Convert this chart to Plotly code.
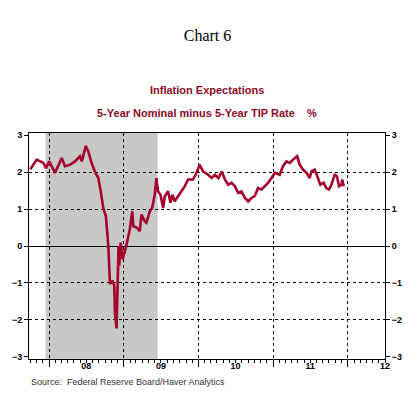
import plotly.graph_objects as go

dates = [
    "2007-10-01", "2007-11-02", "2007-12-04", "2007-12-17", "2008-01-02", "2008-01-20",
    "2008-01-30", "2008-02-14", "2008-03-03", "2008-03-19", "2008-04-12", "2008-05-07",
    "2008-05-31", "2008-06-09", "2008-06-29", "2008-07-11", "2008-07-27", "2008-08-12",
    "2008-08-29", "2008-09-11", "2008-09-22", "2008-10-05", "2008-10-17", "2008-10-25",
    "2008-11-07", "2008-11-15", "2008-11-18", "2008-11-26", "2008-12-01", "2008-12-06",
    "2008-12-09", "2008-12-16", "2008-12-26", "2009-01-11", "2009-01-30", "2009-02-11",
    "2009-02-16", "2009-03-07", "2009-03-20", "2009-03-28", "2009-04-13", "2009-04-21",
    "2009-05-08", "2009-05-19", "2009-06-01", "2009-06-09", "2009-06-17", "2009-06-29",
    "2009-07-12", "2009-07-20", "2009-08-05", "2009-08-17", "2009-08-26", "2009-09-07",
    "2009-09-23", "2009-10-09", "2009-10-26", "2009-11-11", "2009-12-05", "2009-12-18",
    "2010-01-04", "2010-01-07", "2010-01-23", "2010-02-17", "2010-03-06", "2010-03-22",
    "2010-04-08", "2010-04-25", "2010-05-10", "2010-05-26", "2010-06-12", "2010-06-28",
    "2010-07-14", "2010-07-30", "2010-08-16", "2010-09-01", "2010-09-17", "2010-10-03",
    "2010-10-19", "2010-11-05", "2010-11-21", "2010-12-07", "2010-12-24", "2011-01-09",
    "2011-02-02", "2011-02-18", "2011-03-07", "2011-03-23", "2011-04-08", "2011-04-28",
    "2011-05-11", "2011-05-27", "2011-06-13", "2011-06-29", "2011-07-07", "2011-07-23",
    "2011-08-08", "2011-08-20", "2011-09-05", "2011-09-18", "2011-10-01", "2011-10-13",
    "2011-10-29", "2011-11-09", "2011-11-19", "2011-12-01", "2011-12-05", "2011-12-12",
]
spread = [
    2.08, 2.34, 2.25, 2.11, 2.29, 2.07,
    1.98, 2.16, 2.38, 2.16, 2.20, 2.29,
    2.43, 2.29, 2.71, 2.56, 2.25, 2.02,
    1.84, 1.44, 1.03, 0.81, 0.00, -1.03,
    -0.94, -1.08, -1.80, -2.23, -0.72, 0.00,
    -0.54, 0.09, -0.36, -0.04, 0.45, 0.94,
    0.54, 0.49, 0.40, 0.85, 0.67, 0.63,
    0.94, 1.03, 1.39, 1.84, 1.48, 1.39,
    1.03, 1.35, 1.48, 1.17, 1.39, 1.21,
    1.35, 1.48, 1.62, 1.80, 1.80, 1.93,
    2.20, 2.20, 2.02, 1.93, 1.84, 1.93,
    1.84, 2.02, 1.80, 1.66, 1.71, 1.62,
    1.44, 1.48, 1.30, 1.21, 1.30, 1.35,
    1.57, 1.53, 1.62, 1.71, 1.84, 1.98,
    1.93, 2.16, 2.29, 2.25, 2.34, 2.43,
    2.20, 2.07, 1.98, 1.84, 2.02, 2.07,
    1.84, 1.66, 1.71, 1.57, 1.53, 1.66,
    1.93, 1.89, 1.62, 1.66, 1.80, 1.62,
]

recession = ["2007-12-15", "2009-06-15"]
year_starts = ["2008-01-01", "2009-01-01", "2010-01-01", "2011-01-01", "2012-01-01"]
label_dates = ["2008-07-01", "2009-07-01", "2010-07-01", "2011-07-01", "2012-07-01"]
label_text = ["08", "09", "10", "11", "12"]
y_ticks = [-3, -2, -1, 0, 1, 2, 3]
y_grid = [-2, -1, 1, 2]
x_range = ["2007-09-25", "2012-07-01"]
y_range = [-3.06, 3.06]

RED = "#A3002B"
TITLE_RED = "#8B0A2A"
DASH = "3px,3px"
tickfont = dict(family="Liberation Sans, Arial", size=9, color="black", weight="bold")

fig = go.Figure()
fig.add_trace(go.Scatter(x=dates, y=spread, mode="lines",
                         line=dict(color=RED, width=2.6),
                         showlegend=False, hoverinfo="skip"))
# helper invisible traces so overlaying axes render
fig.add_trace(go.Scatter(x=dates[:1], y=spread[:1], mode="markers", marker=dict(opacity=0),
                         xaxis="x2", yaxis="y2", showlegend=False, hoverinfo="skip"))
fig.add_trace(go.Scatter(x=dates[:1], y=spread[:1], mode="markers", marker=dict(opacity=0),
                         xaxis="x", yaxis="y3", showlegend=False, hoverinfo="skip"))

fig.add_shape(type="rect", xref="x", yref="paper", x0=recession[0], x1=recession[1],
              y0=0, y1=1, fillcolor="#C8C8C8", line=dict(width=0), layer="below")

# page body has an 8px default margin; figure sized to fit the 419x397 window
fig.update_layout(
    width=403, height=381, autosize=False,
    margin=dict(l=21, r=26, t=125, b=30),
    paper_bgcolor="white", plot_bgcolor="white",
    title=dict(text="Chart 6", x=0.495, xanchor="center", y=0.929, yanchor="middle",
               font=dict(family="Liberation Serif, Times New Roman", size=16, color="black")),
    xaxis=dict(type="date", range=x_range, tickvals=year_starts, showticklabels=False,
               ticks="outside", ticklen=7, tickcolor="black", tickwidth=1, automargin=False,
               showgrid=True, gridcolor="black", griddash=DASH, gridwidth=1,
               showline=True, linecolor="black", linewidth=1, mirror=True,
               minor=dict(dtick="M1", tick0="2007-01-01", ticks="outside", ticklen=3,
                          tickcolor="black", showgrid=False),
               zeroline=False),
    xaxis2=dict(type="date", range=x_range, overlaying="x", anchor="y", side="bottom",
                tickvals=label_dates, ticktext=label_text, ticks="", tickfont=tickfont,
                automargin=False, showgrid=False, showline=False, zeroline=False,
                ticklabelstandoff=0),
    yaxis=dict(range=y_range, tickvals=y_ticks, ticks="outside", ticklen=4, tickcolor="black",
               tickfont=tickfont, showgrid=False, showline=True, linecolor="black",
               automargin=False, linewidth=1, mirror=True, zeroline=True,
               zerolinecolor="black", zerolinewidth=1),
    yaxis2=dict(range=y_range, overlaying="y", anchor="x2", tickvals=y_grid,
                showticklabels=False, ticks="", showgrid=True, gridcolor="black",
                automargin=False, griddash=DASH, gridwidth=1, zeroline=False, showline=False),
    yaxis3=dict(range=y_range, overlaying="y", anchor="x", side="right", tickvals=y_ticks,
                ticks="outside", ticklen=4, tickcolor="black", tickfont=tickfont,
                automargin=False, showgrid=False, zeroline=False, showline=False),
    annotations=[
        dict(text="Inflation Expectations", xref="paper", yref="paper", x=0.5, y=1.19,
             xanchor="center", yanchor="middle", showarrow=False,
             font=dict(family="Liberation Sans, Arial", size=11, color=TITLE_RED, weight="bold")),
        dict(text="5-Year Nominal minus 5-Year TIP Rate &nbsp;&nbsp;&nbsp;%", xref="paper",
             yref="paper", x=0.5, y=1.088, xanchor="center", yanchor="middle", showarrow=False,
             font=dict(family="Liberation Sans, Arial", size=11, color=TITLE_RED, weight="bold")),
        dict(text="Source:  Federal Reserve Board/Haver Analytics", xref="paper", yref="paper",
             x=0.0, y=-0.102, xanchor="left", yanchor="middle", showarrow=False,
             font=dict(family="Liberation Sans, Arial", size=9, color="#333333")),
    ],
)

fig.write_html("out.html")
